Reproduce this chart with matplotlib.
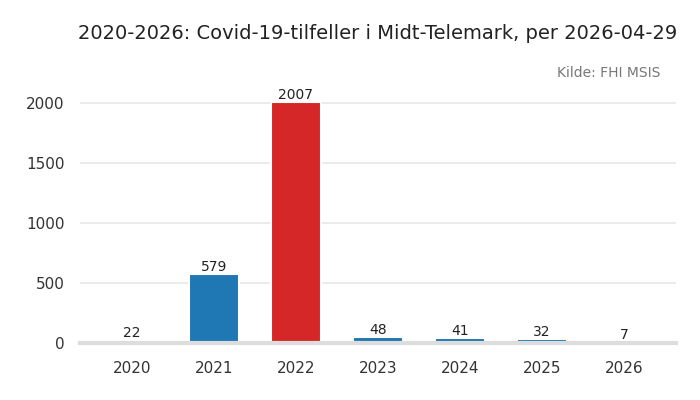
import matplotlib.pyplot as plt

years = ['2020', '2021', '2022', '2023', '2024', '2025', '2026']
cases = [22, 579, 2007, 48, 41, 32, 7]
highlight = '2022'

blue = '#1f77b4'
red = '#d62728'
colors = [red if y == highlight else blue for y in years]

fig = plt.figure(figsize=(7, 4), dpi=100)
ax = fig.add_axes([0.114, 0.1425, 0.852, 0.69])

x = list(range(len(years)))
bars = ax.bar(x, cases, width=0.6, color=colors, edgecolor='white', linewidth=1.5, zorder=2)

for xi, v in zip(x, cases):
    ax.text(xi, v, str(v), ha='center', va='bottom', fontsize=10, color='#222222')

ax.set_xlim(-0.635, 6.635)
ax.set_ylim(0, 2300)
ax.set_xticks(x)
ax.set_xticklabels(years)
ax.set_yticks([0, 500, 1000, 1500, 2000])
ax.tick_params(length=0, labelsize=11, colors='#333333')
ax.tick_params(axis='x', pad=13)
ax.tick_params(axis='y', pad=11)
ax.grid(axis='y', color='#ebebeb', linewidth=1.5, zorder=0)
ax.set_axisbelow(True)
for s in ['top', 'right', 'left']:
    ax.spines[s].set_visible(False)
ax.spines['bottom'].set_color('#dddddd')
ax.spines['bottom'].set_linewidth(3)
ax.spines['bottom'].set_zorder(3)

fig.text(0.111, 0.917, '2020-2026: Covid-19-tilfeller i Midt-Telemark, per 2026-04-29',
         fontsize=14, color='#222222', ha='left', va='center')
fig.text(0.943, 0.818, 'Kilde: FHI MSIS', fontsize=10, color='#777777', ha='right', va='center')

fig.savefig('out.png', dpi=100)
